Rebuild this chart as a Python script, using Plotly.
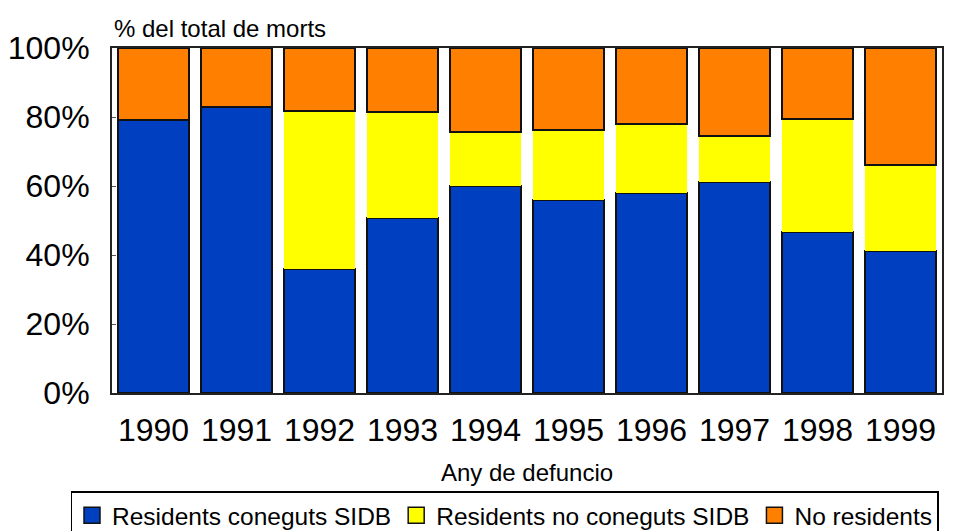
import plotly.graph_objects as go

years = ["1990", "1991", "1992", "1993", "1994", "1995", "1996", "1997", "1998", "1999"]
residents_coneguts = [79.1, 83.0, 35.9, 50.7, 60.0, 56.0, 57.9, 61.2, 46.7, 41.2]
residents_no_coneguts = [0.0, 0.0, 45.8, 30.7, 15.6, 20.2, 20.0, 13.3, 32.8, 24.8]
no_residents = [20.9, 17.0, 18.3, 18.6, 24.4, 23.8, 22.1, 25.5, 20.5, 34.0]
series_names = ["Residents coneguts SIDB", "Residents no coneguts SIDB", "No residents"]
y_ticks = [0, 20, 40, 60, 80, 100]
y_tick_labels = ["0%", "20%", "40%", "60%", "80%", "100%"]

FONT = "Liberation Sans, Arial, sans-serif"
colors = ["#0040C0", "#FFFF00", "#FF8000"]
outline = [1.8, 0, 1.8]

fig = go.Figure()
for vals, name, col, lw in zip([residents_coneguts, residents_no_coneguts, no_residents],
                               series_names, colors, outline):
    fig.add_trace(go.Bar(x=years, y=vals, name=name, showlegend=False,
                         marker=dict(color=col, line=dict(color="#111111", width=lw))))

# legend entries (larger square swatches with black outline)
for name, col in zip(series_names, colors):
    fig.add_trace(go.Scatter(x=[None], y=[None], mode="markers", name=name,
                             marker=dict(symbol="square", size=16, color=col,
                                         line=dict(color="#111111", width=1.5))))

fig.update_layout(
    barmode="stack",
    bargap=0.147,
    width=971, height=531,
    margin=dict(l=104, r=37, t=40, b=146, autoexpand=False),
    paper_bgcolor="white", plot_bgcolor="white",
    font=dict(family=FONT, color="black"),
    showlegend=True,
    legend=dict(orientation="h", x=-0.05, xanchor="left", y=-0.285, yanchor="top",
                bordercolor="black", borderwidth=1.5, font=dict(size=24.5),
                traceorder="normal", itemwidth=30, tracegroupgap=0),
    annotations=[dict(text="% del total de morts", xref="paper", yref="paper",
                      x=0, y=1, xanchor="left", yanchor="bottom", yshift=4,
                      showarrow=False, font=dict(size=24, family=FONT))],
)
fig.update_xaxes(
    showline=True, linecolor="#222222", linewidth=2, mirror=True,
    ticks="", tickfont=dict(size=32, family=FONT), ticklabelstandoff=8,
    automargin=False,
    title=dict(text="Any de defuncio", font=dict(size=24, family=FONT), standoff=17),
)
fig.update_yaxes(
    range=[0, 100], tickvals=y_ticks, ticktext=y_tick_labels,
    showline=True, linecolor="#222222", linewidth=2, mirror=True,
    ticks="inside", ticklen=4, tickcolor="#555555",
    showgrid=False, zeroline=False, automargin=False,
    tickfont=dict(size=32, family=FONT), ticklabelstandoff=14,
)

fig.write_html("out.html")
